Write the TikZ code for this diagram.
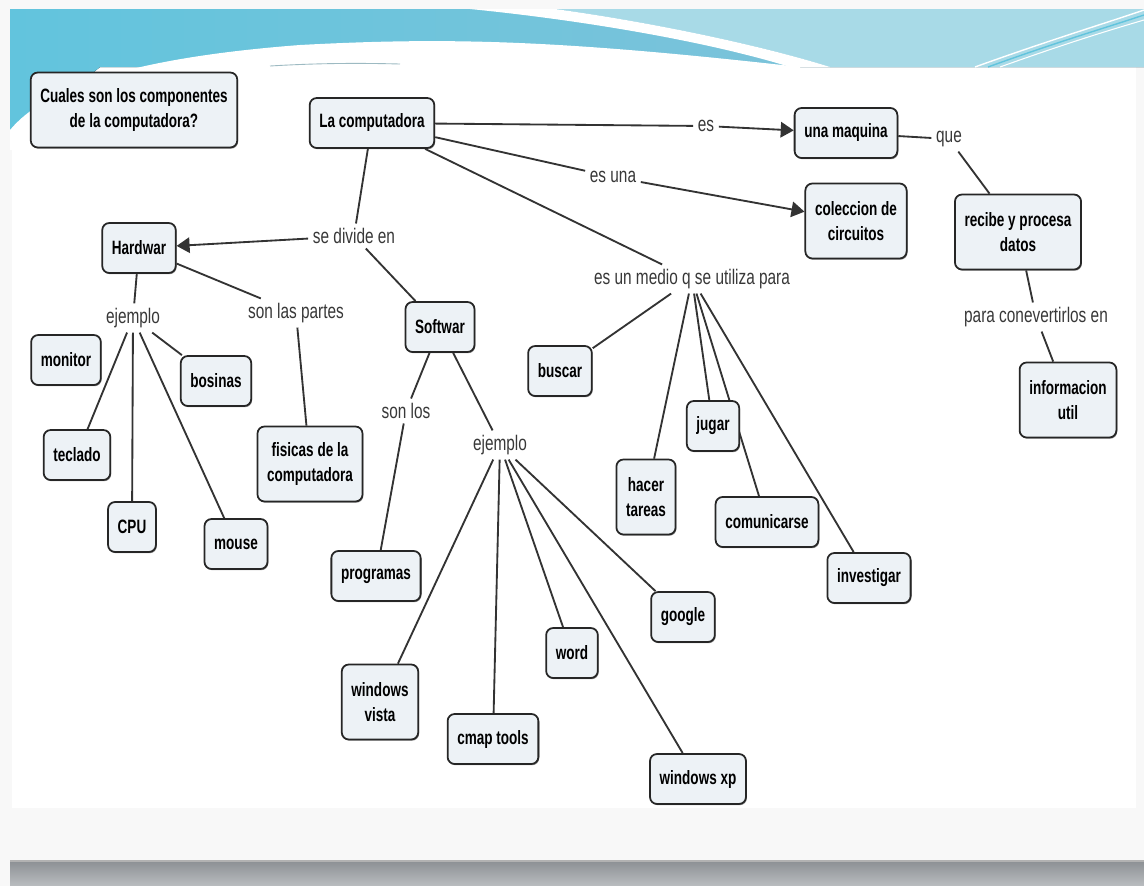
\documentclass[tikz,border=0pt]{standalone}
\usepackage{fontspec}
\newfontfamily\boxfont[FakeStretch=0.7]{Liberation Sans}
\newfontfamily\linkfont[FakeStretch=0.73]{Liberation Sans}
\usetikzlibrary{arrows.meta,shadows,backgrounds}
\definecolor{boxfill}{HTML}{EDF2F6}
\definecolor{pagebg}{HTML}{F8F8F8}
\definecolor{hdleft}{HTML}{62C4DD}
\definecolor{hdmid}{HTML}{86C3D9}
\definecolor{hdright}{HTML}{A8DAE7}
\definecolor{barA}{HTML}{8C9094}
\definecolor{barB}{HTML}{BABDC0}

\begin{document}
\begin{tikzpicture}[x=0.02cm,y=-0.02cm,
  box/.style={draw=black!85,line width=1pt,fill=boxfill,rounded corners=4pt,align=center,
    inner xsep=5.5pt,inner ysep=3pt,minimum height=1cm,
    font=\boxfont\bfseries\fontsize{11}{14}\selectfont,
    drop shadow={shadow xshift=0.5pt,shadow yshift=-0.7pt,fill=black!60,opacity=0.7}},
  box2/.style={box,minimum height=1.5cm},
  lnk/.style={font=\linkfont\fontsize{12}{14}\selectfont,text=black!78,inner sep=2.5pt},
  con/.style={draw=black!80,line width=1.05pt},
  arr/.style={con,-{Triangle[length=2.6mm,width=3.1mm]}}]
\useasboundingbox (0,0) rectangle (1144,886);

\node[box2] (preg) at (134,110) {Cuales son los componentes\\de la computadora?};
\node[box] (comp) at (372,123) {La computadora};
\node[box] (maq) at (846,133) {una maquina};
\node[box2] (circ) at (856,221) {coleccion de\\circuitos};
\node[box2] (proc) at (1018,232) {recibe y procesa\\datos};
\node[box2] (info) at (1068,400) {informacion\\util};
\node[box] (hard) at (139,248) {Hardwar};
\node[box] (soft) at (440,327) {Softwar};
\node[box] (moni) at (66,360) {monitor};
\node[box] (bosi) at (216,381) {bosinas};
\node[box] (tecl) at (77,455) {teclado};
\node[box] (cpu) at (132,527) {CPU};
\node[box] (mous) at (236,544) {mouse};
\node[box2] (fisi) at (310,464) {fisicas de la\\computadora};
\node[box] (prog) at (376,576) {programas};
\node[box2] (vist) at (380,702) {windows\\vista};
\node[box] (cmap) at (493,739) {cmap tools};
\node[box] (word) at (572,653) {word};
\node[box] (goog) at (683,617) {google};
\node[box] (wxp) at (698,779) {windows xp};
\node[box] (busc) at (560,371) {buscar};
\node[box] (juga) at (713,426) {jugar};
\node[box2] (tare) at (646,497) {hacer\\tareas};
\node[box] (comu) at (767,522) {comunicarse};
\node[box] (inve) at (869,578) {investigar};

\node[lnk] (es) at (706,126) {es};
\node[lnk] (esuna) at (613,177) {es una};
\node[lnk] (que) at (949,139) {que};
\node[lnk] (divi) at (354,236) {se divide en};
\node[lnk] (medio) at (692,279) {es un medio q se utiliza para};
\node[lnk] (ejh) at (133,318) {ejemplo};
\node[lnk] (part) at (296,313) {son las partes};
\node[lnk] (sonl) at (406,411) {son los};
\node[lnk] (ejs) at (500,445) {ejemplo};
\node[lnk] (conv) at (1036,317) {para conevertirlos en};

\begin{scope}[on background layer]
\fill[pagebg] (0,0) rectangle (1144,886);
\fill[white] (12,67) rectangle (1136,808);
\fill[left color=hdleft,right color=hdmid] (10,9) -- (1144,9) -- (1144,67) -- (100,67) -- (10,140) -- cycle;
\fill[white] (10,130) .. controls (45,88) and (130,58) .. (300,45) .. controls (450,37) and (560,40) .. (800,67) -- (800,150) -- (10,150) -- cycle;
\fill[hdright] (555,9) .. controls (650,22) and (760,45) .. (830,67) -- (1144,67) -- (1144,9) -- cycle;
\fill[white] (470,9) .. controls (600,22) and (720,45) .. (790,67) -- (830,67) .. controls (760,45) and (650,22) .. (555,9) -- cycle;
\draw[white,line width=0.8pt] (975,67) .. controls (1050,40) and (1100,25) .. (1144,10);
\draw[white,line width=0.6pt] (1000,67) .. controls (1070,42) and (1110,30) .. (1144,20);
\draw[hdleft,line width=0.8pt] (988,67) .. controls (1060,41) and (1105,28) .. (1144,15);
\draw[hdleft!60!black!50,line width=0.5pt] (270,66) .. controls (320,63) and (360,63) .. (400,64);
\fill[top color=barA,bottom color=barB] (10,861) rectangle (1144,886);
\draw[black!30,line width=0.6pt] (10,861) -- (1144,861);

\draw[con] (comp) -- (es);
\draw[arr] (es) -- (maq);
\draw[con] (comp) -- (esuna);
\draw[arr] (esuna) -- (circ);
\draw[con] (comp) -- (medio);
\draw[con] (comp) -- (divi);
\draw[arr] (divi) -- (hard);
\draw[con] (divi) -- (soft);
\draw[con] (maq) -- (que);
\draw[con] (que) -- (proc);
\draw[con] (proc) -- (conv);
\draw[con] (conv) -- (info);
\draw[con] (hard) -- (ejh);
\draw[con] (hard) -- (part);
\draw[con] (part) -- (fisi);
\draw[con] (soft) -- (sonl);
\draw[con] (sonl) -- (prog);
\draw[con] (soft) -- (ejs);
\foreach \c in {tecl,cpu,mous,bosi} \draw[con] (ejh) -- (\c);
\foreach \c in {vist,cmap,word,goog,wxp} \draw[con] (ejs) -- (\c);
\foreach \c in {busc,tare,juga,comu,inve} \draw[con] (medio) -- (\c);
\end{scope}
\end{tikzpicture}
\end{document}
